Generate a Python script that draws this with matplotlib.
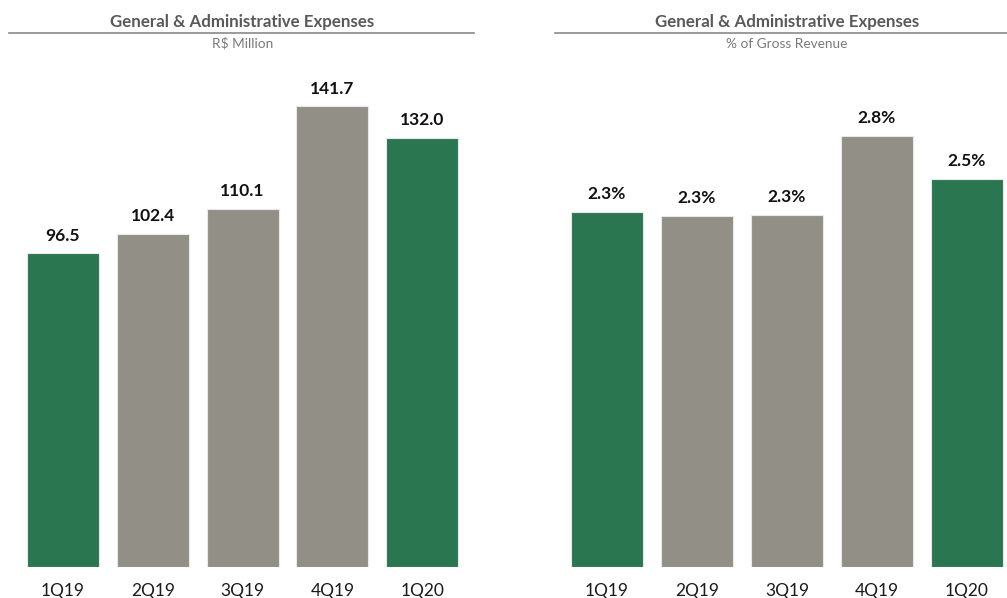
import matplotlib
matplotlib.use("Agg")
import matplotlib.pyplot as plt
from matplotlib.lines import Line2D

plt.rcParams['font.family'] = ['Lato', 'DejaVu Sans']

quarters = ["1Q19", "2Q19", "3Q19", "4Q19", "1Q20"]
expenses_brl_mn = [96.5, 102.4, 110.1, 141.7, 132.0]
expenses_pct_revenue = [2.31, 2.28, 2.29, 2.80, 2.52]
highlight = [True, False, False, False, True]

GREEN = "#2a7650"
GREY = "#918f86"
TITLE_GREY = "#595959"
SUB_GREY = "#7a7a7a"

W, H = 1007, 598
fig = plt.figure(figsize=(W / 100, H / 100), dpi=100)


def px_axes(x0, x1, y_top, y_base):
    return fig.add_axes([x0 / W, (H - y_base) / H, (x1 - x0) / W, (y_base - y_top) / H])


def draw_panel(ax, values, fmt, ymax, xmax):
    colors = [GREEN if h else GREY for h in highlight]
    x = range(len(quarters))
    bars = ax.bar(x, values, width=0.8, color=colors, edgecolor="#e8e8e4", linewidth=0.8)
    for b, v in zip(bars, values):
        ax.annotate(fmt.format(v), (b.get_x() + b.get_width() / 2, v),
                    xytext=(0, 7), textcoords="offset points", ha="center", va="bottom",
                    fontsize=12.5, fontweight="bold", color="#111111")
    ax.set_xlim(-0.5, xmax)
    ax.set_ylim(0, ymax)
    ax.set_xticks(list(x))
    ax.set_xticklabels(quarters, fontsize=12.5, color="#1a1a1a")
    ax.tick_params(axis="x", length=0, pad=11)
    ax.set_yticks([])
    for s in ax.spines.values():
        s.set_visible(False)


ax1 = px_axes(18.1, 467.1, 60, 567.3)
draw_panel(ax1, expenses_brl_mn, "{:.1f}", 507.3 / 3.253, 4.5)

ax2 = px_axes(562, 1007, 60, 567.3)
draw_panel(ax2, expenses_pct_revenue, "{:.1f}%", 507.3 / 154.0, 4.447)

# Panel headers with underline rule
headers = [
    (242.5, 9, 474, "R$ Million"),
    (787, 555, 1007, "% of Gross Revenue"),
]
for cx, lx0, lx1, sub in headers:
    fig.text(cx / W, 1 - 21.5 / H, "General & Administrative Expenses", ha="center", va="center",
             fontsize=12.2, fontweight="bold", color=TITLE_GREY)
    fig.add_artist(Line2D([lx0 / W, lx1 / W], [1 - 32.5 / H, 1 - 32.5 / H],
                          color="#8a8a8a", linewidth=1.2, transform=fig.transFigure))
    fig.text(cx / W, 1 - 43.5 / H, sub, ha="center", va="center",
             fontsize=9.8, color=SUB_GREY)

fig.savefig("out.png", dpi=100)
